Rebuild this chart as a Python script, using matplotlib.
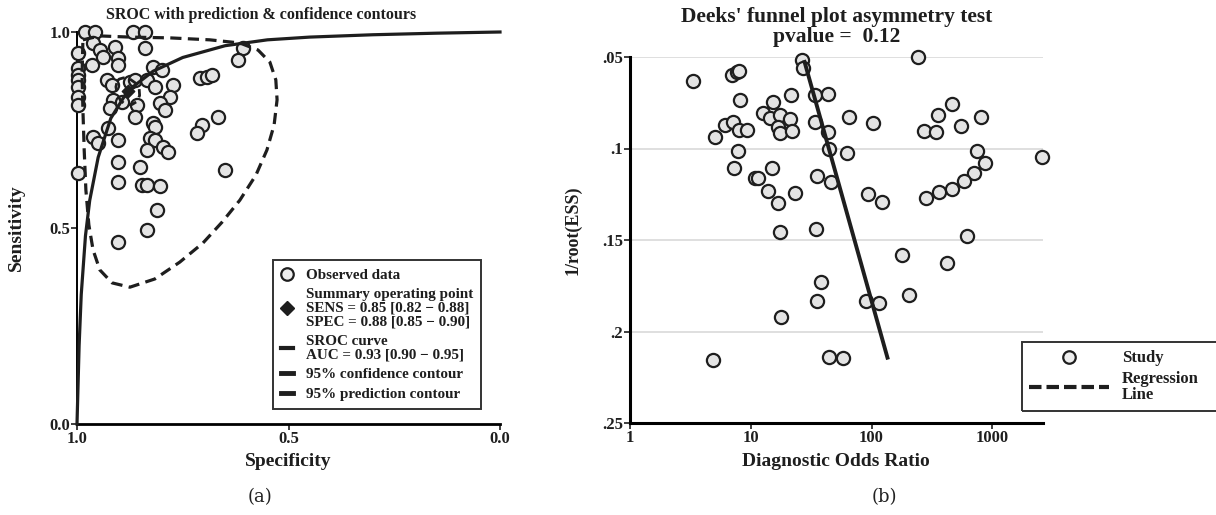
import numpy as np
import matplotlib
matplotlib.use('Agg')
import matplotlib.pyplot as plt
from matplotlib.lines import Line2D
from matplotlib.patches import Rectangle

plt.rcParams['font.family'] = ['Liberation Serif', 'DejaVu Serif']
plt.rcParams['font.weight'] = 'bold'

# ---- panel (a): SROC ----
obs_spec = [.981, .957, .868, .839, .962, .946, .939, .910, .839, .998, .903, .903, .965,
            .998, .998, .998, .998, .998, .998, .820, .799, .709, .693, .681, .929, .917,
            .875, .863, .835, .816, .773, .780, .804, .792, .915, .894, .922, .858, .863,
            .820, .816, .667, .704, .716, .962, .950, .927, .903, .827, .816, .797, .785,
            .835, .903, .851, .903, .846, .835, .804, .650, .998, .811, .835, .903, .608, .619]
obs_sens = [1.0, 1.0, 1.0, 1.0, .972, .954, .936, .962, .959, .946, .934, .916, .916,
            .908, .890, .878, .860, .834, .814, .911, .903, .883, .885, .890, .878, .865,
            .872, .878, .878, .860, .865, .834, .819, .801, .827, .821, .806, .814, .783,
            .768, .758, .783, .763, .742, .732, .717, .755, .724, .730, .724, .707, .694,
            .699, .668, .656, .617, .610, .610, .607, .648, .640, .546, .495, .464, .959, .929]

sroc_spec = [1.0, .995, .99, .98, .97, .95, .92, .88, .82, .75, .65, .55, .45, .3, .15, 0.0]
sroc_sens = [0.0, .20, .33, .48, .57, .68, .78, .85, .90, .935, .965, .98, .987, .993, .997, 1.0]

conf_spec = [.905, .900, .890, .875, .862, .853, .852, .858, .870, .885, .897, .905, .908, .905]
conf_sens = [.875, .880, .883, .880, .870, .855, .838, .823, .815, .815, .825, .842, .860, .875]

pred_spec = [.986, .946, .875, .780, .686, .615, .572, .544, .530, .527, .534, .551, .577,
             .615, .657, .702, .757, .816, .875, .917, .946, .962, .972, .979, .983, .986,
             .988, .986]
pred_sens = [.980, .990, .987, .985, .980, .972, .954, .923, .878, .827, .763, .699, .635,
             .571, .515, .462, .413, .370, .349, .360, .393, .444, .508, .597, .699, .801,
             .890, .980]

summary_spec, summary_sens = 0.88, 0.85

# ---- panel (b): Deeks ----
dor = [3.3, 6.97, 7.66, 7.96, 8.11, 15.2, 21.4, 12.6, 14.4, 17.4, 21.0, 6.10, 7.10, 5.04,
       7.96, 9.27, 16.7, 17.4, 21.8, 7.81, 7.24, 14.9, 10.8, 11.4, 13.8, 16.7, 23.1, 17.4,
       26.4, 26.9, 33.8, 43.3, 33.8, 43.3, 64.6, 102, 44.1, 62.1, 35.1, 45.8, 92.7, 123,
       34.5, 244, 467, 358, 811, 554, 274, 345, 752, 2590, 875, 710, 587, 467, 365, 285,
       621, 180, 425, 206, 116, 89.2, 37.9, 35.1, 17.7, 4.85, 44.1, 57.6]
ess = [.0632, .0599, .0582, .0577, .0736, .0747, .0709, .0808, .0835, .0818, .0840, .0873,
       .0857, .0939, .0901, .0901, .0884, .0917, .0906, .1011, .1104, .1109, .1159, .1159,
       .1230, .1296, .1241, .1455, .0516, .0560, .0709, .0703, .0857, .0912, .0829, .0862,
       .1000, .1022, .1153, .1181, .1247, .1291, .1439, .0500, .0758, .0818, .0829, .0879,
       .0906, .0912, .1016, .1044, .1077, .1132, .1175, .1219, .1236, .1269, .1478, .1582,
       .1626, .1802, .1846, .1835, .1731, .1835, .1923, .2154, .2137, .2143]
reg_dor = [27.9, 135.5]
reg_ess = [0.0527, 0.2143]

W, H = 1216, 515
fig = plt.figure(figsize=(W / 100, H / 100), dpi=100)

def fx(px):
    return px / W

def fy(py):
    return 1 - py / H

ink = '#1e1e1e'
circ = dict(s=90, facecolors='#e4e4e4', edgecolors=ink, linewidths=1.6, zorder=3, clip_on=False)

# panel a
ax1 = fig.add_axes([fx(77), fy(424), fx(500) - fx(77), fy(32) - fy(424)])
ax1.scatter(obs_spec, obs_sens, **circ)
ax1.plot(sroc_spec, sroc_sens, color=ink, lw=2.3, zorder=4, clip_on=False)
ax1.plot(pred_spec, pred_sens, color=ink, lw=2.3, dashes=(3.5, 2), zorder=4)
ax1.plot(conf_spec, conf_sens, color=ink, lw=2.0, dashes=(3, 2), zorder=4)
ax1.scatter([summary_spec], [summary_sens], marker='D', s=40, color=ink, zorder=5)
ax1.set_xlim(1, 0)
ax1.set_ylim(0, 1)
ax1.set_xticks([1, 0.5, 0])
ax1.set_xticklabels(['1.0', '0.5', '0.0'])
ax1.set_yticks([0, 0.5, 1])
ax1.set_yticklabels(['0.0', '0.5', '1.0'])
for s in ['top', 'right']:
    ax1.spines[s].set_visible(False)
ax1.spines['left'].set_linewidth(1.4)
ax1.spines['bottom'].set_linewidth(2.0)
ax1.tick_params(labelsize=12, length=4, width=1.2, colors=ink, pad=1)
fig.text(fx(288), fy(462), 'Specificity', ha='center', va='center', fontsize=14, color=ink)
fig.text(fx(16), fy(228), 'Sensitivity', ha='center', va='center', rotation=90, fontsize=14, color=ink)
fig.text(fx(261), fy(15), 'SROC with prediction & confidence contours', ha='center', va='center',
         fontsize=11.5, color=ink)

h1 = [Line2D([], [], ls='none', marker='o', ms=9, mfc='#eeeeee', mec=ink, mew=1.6),
      Line2D([], [], ls='none', marker='D', ms=7, color=ink),
      Line2D([], [], color=ink, lw=3),
      Line2D([], [], color=ink, lw=3.5),
      Line2D([], [], color=ink, lw=3.5)]
l1 = ['Observed data',
      'Summary operating point\nSENS = 0.85 [0.82 \u2212 0.88]\nSPEC = 0.88 [0.85 \u2212 0.90]',
      'SROC curve\nAUC = 0.93 [0.90 \u2212 0.95]',
      '95% confidence contour',
      '95% prediction contour']
leg1 = fig.legend(h1, l1, loc='upper left', bbox_to_anchor=(fx(273), fy(260)),
                  borderaxespad=0, fontsize=10.9, handlelength=0.8, handletextpad=0.8,
                  labelspacing=0.42, borderpad=0.55, fancybox=False, edgecolor='#333333',
                  framealpha=1)
leg1.get_frame().set_linewidth(1.4)
for t in leg1.get_texts():
    t.set_linespacing(1.05)
    t.set_color(ink)

# panel b
ax2 = fig.add_axes([fx(630), fy(423), fx(1043) - fx(630), fy(57) - fy(423)])
ax2.yaxis.grid(True, color='#dcdcdc', lw=1.3)
ax2.set_axisbelow(True)
ax2.scatter(dor, ess, **circ)
ax2.plot(reg_dor, reg_ess, color=ink, lw=2.8, zorder=4)
ax2.set_xscale('log')
ax2.set_xlim(1, 2630)
ax2.set_ylim(0.25, 0.05)
ax2.set_xticks([1, 10, 100, 1000])
ax2.set_xticklabels(['1', '10', '100', '1000'])
ax2.xaxis.set_minor_locator(matplotlib.ticker.NullLocator())
ax2.set_yticks([0.05, 0.1, 0.15, 0.2, 0.25])
ax2.set_yticklabels(['.05', '.1', '.15', '.2', '.25'])
for s in ['top', 'right']:
    ax2.spines[s].set_visible(False)
ax2.spines['left'].set_linewidth(2.2)
ax2.spines['bottom'].set_linewidth(2.2)
ax2.tick_params(labelsize=12, length=4, width=1.2, colors=ink, pad=1)
fig.text(fx(836), fy(462), 'Diagnostic Odds Ratio', ha='center', va='center', fontsize=14, color=ink)
fig.text(fx(573), fy(230), '1/root(ESS)', ha='center', va='center', rotation=90, fontsize=13, color=ink)
fig.text(fx(837), fy(17), "Deeks' funnel plot asymmetry test", ha='center', va='center',
         fontsize=15.5, color=ink)
fig.text(fx(837), fy(37), "pvalue =  0.12", ha='center', va='center', fontsize=15.5, color=ink)

fig.patches.append(Rectangle((fx(1022), fy(411)), fx(1240) - fx(1022), fy(342) - fy(411),
                             transform=fig.transFigure, fill=False, ec='#333333', lw=1.4))
h2 = [Line2D([], [], ls='none', marker='o', ms=9, mfc='#eeeeee', mec=ink, mew=1.6),
      Line2D([], [], color=ink, lw=3, dashes=(3, 1.2))]
leg2 = fig.legend(h2, ['Study', 'Regression\nLine'], loc='upper left',
                  bbox_to_anchor=(fx(1026), fy(347)), borderaxespad=0, borderpad=0.2,
                  fontsize=12, handlelength=4.8, handletextpad=0.75, labelspacing=0.3,
                  frameon=False)
for t in leg2.get_texts():
    t.set_linespacing(0.95)
    t.set_color(ink)

fig.text(fx(260), fy(497), '(a)', ha='center', va='center', fontsize=13, fontweight='normal',
         family='DejaVu Serif', color='#222222')
fig.text(fx(884), fy(497), '(b)', ha='center', va='center', fontsize=13, fontweight='normal',
         family='DejaVu Serif', color='#222222')

fig.savefig('out.png', dpi=100)
